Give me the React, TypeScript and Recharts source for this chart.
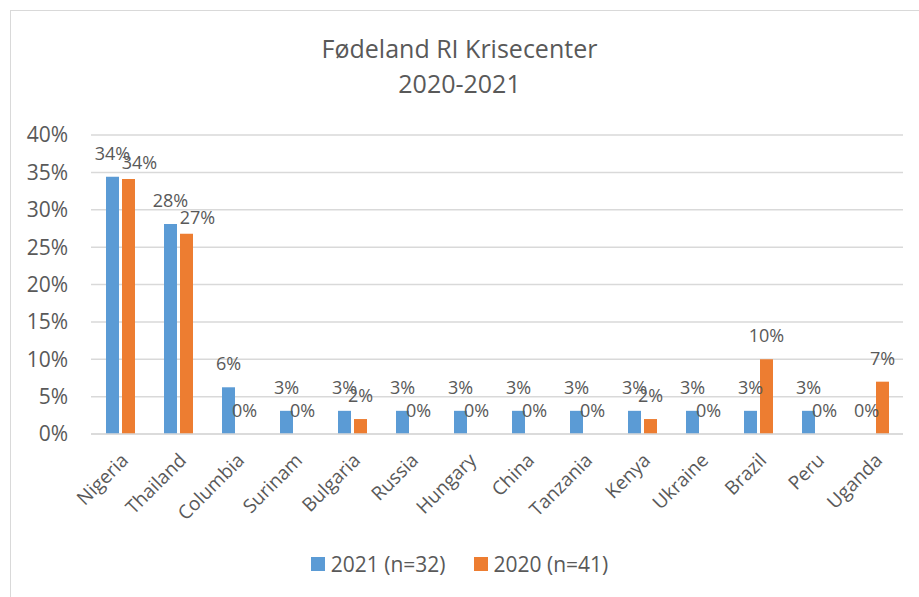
import React from "react"
import { BarChart, Bar, XAxis, YAxis, CartesianGrid, LabelList } from "recharts"

const countries = [
  "Nigeria",
  "Thailand",
  "Columbia",
  "Surinam",
  "Bulgaria",
  "Russia",
  "Hungary",
  "China",
  "Tanzania",
  "Kenya",
  "Ukraine",
  "Brazil",
  "Peru",
  "Uganda",
]

// share of cases in percent
const values2021 = [34.4, 28.1, 6.25, 3.1, 3.1, 3.1, 3.1, 3.1, 3.1, 3.1, 3.1, 3.1, 3.1, 0]
const values2020 = [34.1, 26.8, 0, 0, 2.0, 0, 0, 0, 0, 2.0, 0, 10.0, 0, 7.0]

const yTicks = [0, 5, 10, 15, 20, 25, 30, 35, 40]

const series = [
  { key: "y2021", name: "2021 (n=32)", color: "#5B9BD5" },
  { key: "y2020", name: "2020 (n=41)", color: "#ED7D31" },
]

const data = countries.map((c, i) => ({ name: c, y2021: values2021[i], y2020: values2020[i] }))

const FONT = "'Open Sans', sans-serif"
const TEXT = "#595959"

// Excel nudges the orange label aside when it would collide with the tall blue one
const makeLabel = (nudge: boolean) => (props: any) => {
  const { x, y, width, value } = props
  const big = nudge && value > 20
  return (
    <text
      x={x + width / 2 + (big ? 11 : 0)}
      y={y - (big ? 10 : 17)}
      textAnchor="middle"
      fill={TEXT}
      fontSize={18}
      fontFamily={FONT}
    >
      {`${Math.round(value)}%`}
    </text>
  )
}

export default function App() {
  return (
    <div style={{ position: "fixed", left: 0, top: 0, width: 919, height: 597, background: "#fff", overflow: "hidden" }}>
      <div
        style={{
          position: "absolute",
          left: 10,
          top: 10,
          width: 930,
          height: 620,
          border: "1.5px solid #D9D9D9",
          boxSizing: "border-box",
        }}
      />
      <div
        style={{
          position: "absolute",
          left: 0,
          top: 31,
          width: 919,
          textAlign: "center",
          fontFamily: FONT,
          fontSize: 25,
          lineHeight: "35px",
          color: TEXT,
        }}
      >
        Fødeland RI Krisecenter
        <br />
        2020-2021
      </div>
      <div style={{ position: "absolute", left: 0, top: 0 }}>
        <BarChart
          width={919}
          height={597}
          data={data}
          margin={{ top: 135, right: 16, bottom: 63, left: 0 }}
          barSize={13}
          barGap={3}
        >
          <CartesianGrid vertical={false} stroke="#D9D9D9" strokeWidth={1.5} />
          <XAxis
            dataKey="name"
            height={100}
            axisLine={{ stroke: "#D9D9D9", strokeWidth: 1.5 }}
            tickLine={false}
            interval={0}
            angle={-45}
            textAnchor="end"
            tickMargin={12}
            tick={{ fill: TEXT, fontSize: 19, fontFamily: FONT }}
          />
          <YAxis
            width={91}
            domain={[0, 40]}
            ticks={yTicks}
            tickFormatter={(v) => `${v}%`}
            axisLine={false}
            tickLine={false}
            tickMargin={17}
            tick={{ fill: TEXT, fontSize: 21, fontFamily: FONT }}
          />
          {series.map((s, i) => (
            <Bar
              key={s.key}
              dataKey={s.key}
              name={s.name}
              fill={s.color}
              minPointSize={0.01}
              isAnimationActive={false}
            >
              <LabelList dataKey={s.key} content={makeLabel(i === 1)} />
            </Bar>
          ))}
        </BarChart>
      </div>
      <div
        style={{
          position: "absolute",
          left: 0,
          top: 550,
          width: 919,
          display: "flex",
          justifyContent: "center",
          fontFamily: FONT,
          fontSize: 21,
          lineHeight: "28px",
          color: TEXT,
        }}
      >
        {series.map((s, i) => (
          <div key={s.key} style={{ display: "flex", alignItems: "center", marginLeft: i ? 28 : 0 }}>
            <span style={{ width: 14, height: 14, background: s.color, marginRight: 6, display: "inline-block" }} />
            <span>{s.name}</span>
          </div>
        ))}
      </div>
    </div>
  )
}
